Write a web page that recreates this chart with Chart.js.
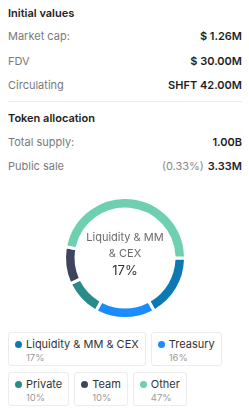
<!DOCTYPE html>
<html>
<head>
<meta charset="utf-8">
<script src="https://cdn.jsdelivr.net/npm/chart.js@4"></script>
<style>
  body { margin: 0; background: #fff; font-family: Inter, "Noto Sans", sans-serif; width: 249px; height: 415px; overflow: hidden; position: relative; }
  .h { position: absolute; left: 8px; font-size: 11px; font-weight: 600; color: #222; }
  .row { position: absolute; left: 8px; right: 7px; font-size: 11px; display: flex; justify-content: space-between; }
  .row .k { color: #7a7a7a; }
  .row .v { color: #1f1f1f; font-weight: 600; }
  .row .p { color: #8a8a8a; font-weight: 400; margin-right: 4px; }
  .sep { position: absolute; left: 8px; right: 7px; top: 101px; height: 1px; background: #ececec; }
  #wrap { position: absolute; left: 60px; top: 193px; width: 130px; height: 130px; }
  #legend { position: absolute; left: 8px; top: 332px; width: 236px; display: flex; flex-wrap: wrap; gap: 6px 5px; }
  .item { border: 1px solid #ececec; border-radius: 3px; height: 34px; box-sizing: border-box; padding: 5px 6px 0 6px; }
  .item .l { font-size: 11px; color: #333; display: flex; align-items: center; line-height: 13px; }
  .item .dot { width: 7px; height: 7px; border-radius: 50%; margin-right: 4px; }
  .item .pc { font-size: 9.5px; color: #9a9a9a; margin-left: 11px; margin-top: 1px; }
</style>
</head>
<body>
<div class="h" style="top:6px">Initial values</div>
<div class="row" style="top:29px"><span class="k">Market cap:</span><span class="v">$ 1.26M</span></div>
<div class="row" style="top:54px"><span class="k">FDV</span><span class="v">$ 30.00M</span></div>
<div class="row" style="top:78px"><span class="k">Circulating</span><span class="v">SHFT 42.00M</span></div>
<div class="sep"></div>
<div class="h" style="top:111px">Token allocation</div>
<div class="row" style="top:135px"><span class="k">Total supply:</span><span class="v">1.00B</span></div>
<div class="row" style="top:159px"><span class="k">Public sale</span><span><span class="p">(0.33%)</span><span class="v">3.33M</span></span></div>
<div id="wrap"><canvas id="chart"></canvas></div>
<div id="legend"></div>
<script>
const labels = ['Liquidity & MM & CEX', 'Treasury', 'Private', 'Team', 'Other'];
const shares = [17, 16, 10, 10, 47];
const colors = ['#0b79b3', '#1a8cff', '#2a8b8b', '#3e4460', '#6fcfb1'];
const centerIndex = 0;

const centerText = {
  id: 'centerText',
  afterDraw(chart) {
    const c = chart.ctx;
    const arc = chart.getDatasetMeta(0).data[0];
    const x = arc.x, y = arc.y;
    c.save();
    c.textAlign = 'center';
    c.textBaseline = 'middle';
    c.font = '11px Inter';
    c.fillStyle = '#6b6b6b';
    const words = labels[centerIndex].split(' ');
    const lines = [];
    let cur = '';
    words.forEach(w => {
      const t = cur ? cur + ' ' + w : w;
      if (c.measureText(t).width > 80 && cur) { lines.push(cur); cur = w; } else cur = t;
    });
    lines.push(cur);
    lines.forEach((ln, i) => c.fillText(ln, x, y - 20 + i * 16));
    c.font = '13px Inter';
    c.fillStyle = '#333';
    c.fillText(shares[centerIndex] + '%', x, y + 13);
    c.restore();
  }
};

new Chart(document.getElementById('chart'), {
  type: 'doughnut',
  data: {
    labels: labels,
    datasets: [{
      data: shares,
      backgroundColor: colors,
      borderColor: '#fff',
      borderWidth: 3,
      borderRadius: 2,
    }],
  },
  options: {
    responsive: true,
    maintainAspectRatio: false,
    animation: false,
    rotation: 90,
    cutout: '81%',
    events: [],
    layout: { padding: 3 },
    plugins: { legend: { display: false }, tooltip: { enabled: false } },
  },
  plugins: [centerText],
});

const legend = document.getElementById('legend');
labels.forEach((lab, i) => {
  const d = document.createElement('div');
  d.className = 'item';
  d.innerHTML = '<div class="l"><span class="dot" style="background:' + colors[i] + '"></span>' + lab +
    '</div><div class="pc">' + shares[i] + '%</div>';
  legend.appendChild(d);
});
</script>
</body>
</html>
